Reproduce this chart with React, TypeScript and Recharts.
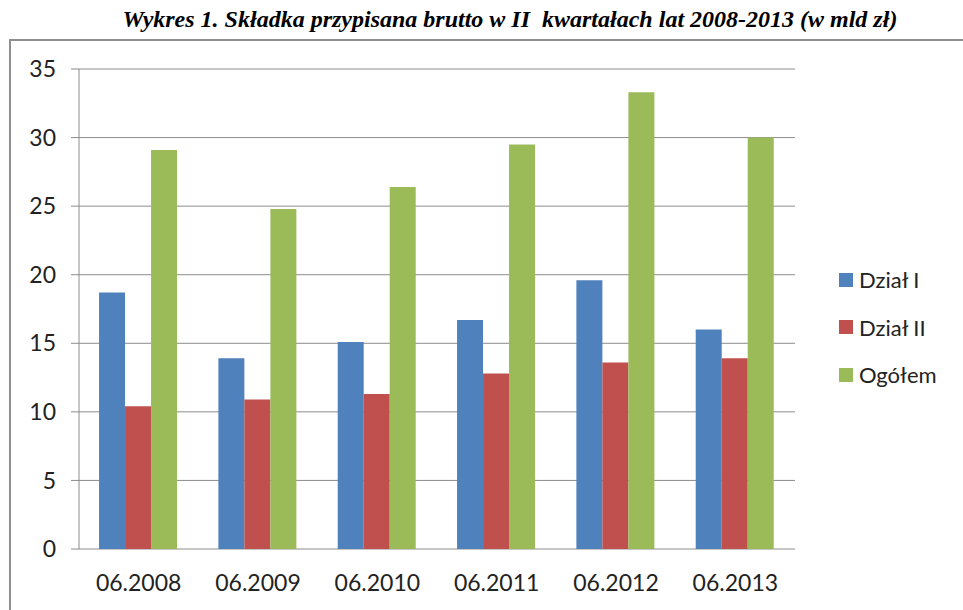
import { Bar, BarChart, CartesianGrid, XAxis, YAxis } from "recharts";

const categories = ["06.2008", "06.2009", "06.2010", "06.2011", "06.2012", "06.2013"];
const dzialI = [18.7, 13.9, 15.1, 16.7, 19.6, 16.0];
const dzialII = [10.4, 10.9, 11.3, 12.8, 13.6, 13.9];
const ogolem = [29.1, 24.8, 26.4, 29.5, 33.3, 30.0];
const yTicks = [0, 5, 10, 15, 20, 25, 30, 35];
const edgeTicks = [0, 1, 2, 3, 4, 5, 6];

const series = [
  { key: "dzialI", name: "Dział I", color: "#4f81bd" },
  { key: "dzialII", name: "Dział II", color: "#c0504d" },
  { key: "ogolem", name: "Ogółem", color: "#9bbb59" },
];

const data = categories.map((name, i) => ({
  name,
  dzialI: dzialI[i],
  dzialII: dzialII[i],
  ogolem: ogolem[i],
}));

const font = "Lato, 'Open Sans', sans-serif";
const axisGray = "#8c8c8c";

function LegendBox() {
  return (
    <div style={{ fontFamily: font, fontSize: 22, color: "#222" }}>
      {series.map((s) => (
        <div key={s.key} style={{ display: "flex", alignItems: "center", height: 47.5 }}>
          <span style={{ width: 14, height: 14, background: s.color, marginRight: 6 }} />
          <span>{s.name}</span>
        </div>
      ))}
    </div>
  );
}

export default function App() {
  return (
    <div style={{ position: "absolute", left: 0, top: 0, width: 963, height: 610, background: "#fff", overflow: "hidden" }}>
      <div
        style={{
          position: "absolute",
          left: 0,
          width: 1020,
          top: 6,
          textAlign: "center",
          fontFamily: "'Liberation Serif', serif",
          fontWeight: "bold",
          fontStyle: "italic",
          fontSize: 24,
          whiteSpace: "nowrap",
        }}
      >
        Wykres 1. Składka przypisana brutto w II&nbsp; kwartałach lat 2008-2013 (w mld zł)
      </div>
      <div style={{ position: "absolute", left: 9, top: 39, width: 1000, height: 620, border: "2px solid #8f8f8f" }} />
      <div style={{ position: "absolute", left: 0, top: 0 }}>
        <BarChart
          width={963}
          height={610}
          data={data}
          margin={{ top: 69, right: 168, left: 29, bottom: 20 }}
          barCategoryGap="16.8%"
          barGap={0}
        >
          <CartesianGrid vertical={false} stroke={axisGray} />
          <XAxis
            xAxisId="edge"
            type="number"
            domain={[0, 6]}
            ticks={edgeTicks}
            height={0}
            tickFormatter={() => ""}
            tickSize={8}
            tickLine={{ stroke: axisGray }}
            axisLine={{ stroke: axisGray }}
          />
          <XAxis
            xAxisId="cat"
            dataKey="name"
            height={41}
            tickLine={false}
            axisLine={false}
            tickMargin={20}
            tick={{ fontFamily: font, fontSize: 23, fill: "#222" }}
          />
          <YAxis
            width={50}
            domain={[0, 35]}
            ticks={yTicks}
            tickSize={8}
            tickMargin={15}
            tickLine={{ stroke: axisGray }}
            axisLine={{ stroke: axisGray }}
            tick={{ fontFamily: font, fontSize: 23, fill: "#222" }}
          />
          {series.map((s) => (
            <Bar key={s.key} xAxisId="cat" dataKey={s.key} name={s.name} fill={s.color} isAnimationActive={false} />
          ))}
        </BarChart>
      </div>
      <div style={{ position: "absolute", left: 839, top: 256 }}>
        <LegendBox />
      </div>
    </div>
  );
}
